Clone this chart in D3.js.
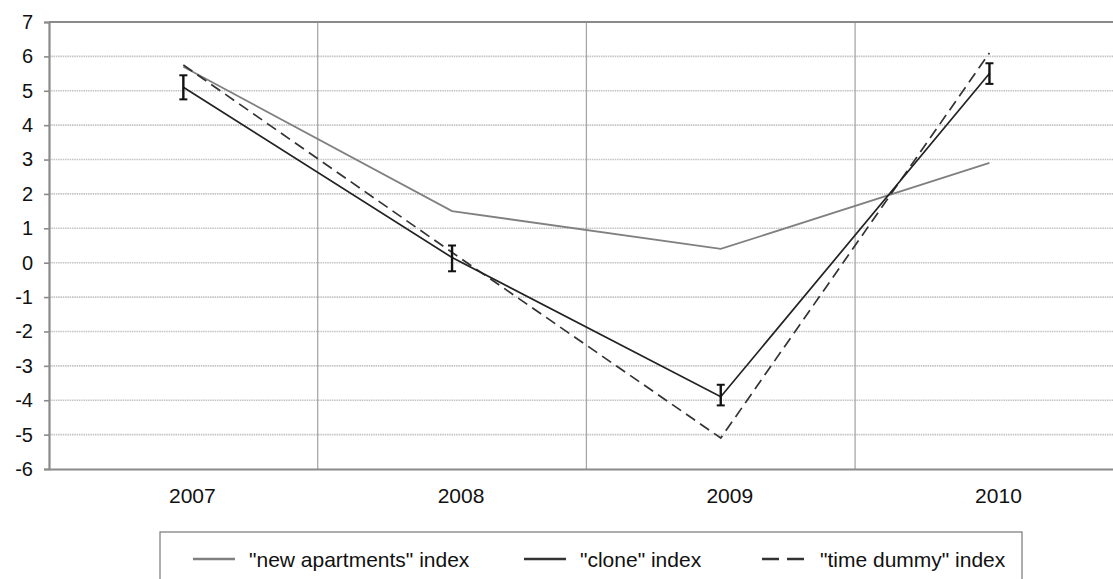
<!DOCTYPE html>
<html>
<head>
<meta charset="utf-8">
<script src="https://cdn.jsdelivr.net/npm/d3@7"></script>
<style>
  html, body { margin: 0; padding: 0; background: #fff; }
  svg { display: block; font-family: "Liberation Sans", Arial, sans-serif; }
</style>
</head>
<body>
<svg id="chart" width="1113" height="579"></svg>
<script>
// Years on the category axis
const years = ["2007", "2008", "2009", "2010"];
// Price index changes, per cent
const newApartments = [5.7, 1.5, 0.4, 2.9];
const cloneIndex = [5.1, 0.15, -3.9, 5.5];
const cloneLow = [4.75, -0.25, -4.15, 5.2];
const cloneHigh = [5.45, 0.5, -3.55, 5.8];
const timeDummy = [5.75, 0.3, -5.1, 6.1];
const yTicks = [7, 6, 5, 4, 3, 2, 1, 0, -1, -2, -3, -4, -5, -6];
const legendLabels = ['"new apartments" index', '"clone" index', '"time dummy" index'];

const svg = d3.select("#chart");
const plotLeft = 49, plotTop = 22, plotBottom = 469, band = 268.7;

const x = d3.scaleBand().domain(years).range([plotLeft, plotLeft + band * years.length]);
const y = d3.scaleLinear().domain([-6, 7]).range([plotBottom, plotTop]);
const cx = d => x(d) + x.bandwidth() / 2;

// horizontal grid
svg.append("g").selectAll("line")
  .data(yTicks.filter(t => t !== 7 && t !== -6))
  .join("line")
  .attr("x1", plotLeft).attr("x2", 1113)
  .attr("y1", d => y(d)).attr("y2", d => y(d))
  .attr("stroke", "#c4c4c4").attr("stroke-width", 1.6)
  .attr("stroke-dasharray", "1.5,0.8");

// category separators
svg.append("g").selectAll("line")
  .data(years.slice(1))
  .join("line")
  .attr("x1", d => x(d)).attr("x2", d => x(d))
  .attr("y1", plotTop).attr("y2", plotBottom)
  .attr("stroke", "#a8a8a8").attr("stroke-width", 1.3);

// top border
svg.append("line")
  .attr("x1", plotLeft).attr("x2", 1113)
  .attr("y1", y(7)).attr("y2", y(7))
  .attr("stroke", "#8a8a8a").attr("stroke-width", 2);

// y axis
const yAxis = d3.axisLeft(y).tickValues(yTicks).tickSize(5).tickFormat(d => String(d));
const gy = svg.append("g").attr("transform", `translate(${plotLeft},0)`).call(yAxis);
gy.select(".domain").attr("stroke", "#8a8a8a").attr("stroke-width", 2.2);
gy.selectAll(".tick line").attr("stroke", "#8a8a8a").attr("stroke-width", 1.6);
gy.selectAll(".tick text").attr("font-size", 20).attr("fill", "#111")
  .attr("font-family", "Liberation Sans, Arial, sans-serif").attr("x", -16);

// x axis
const xAxis = d3.axisBottom(x).tickSize(0).tickPadding(19);
const gx = svg.append("g").attr("transform", `translate(0,${plotBottom})`).call(xAxis);
gx.select(".domain").attr("stroke", "#8a8a8a").attr("stroke-width", 2.2);
gx.selectAll(".tick text").attr("font-size", 21).attr("fill", "#111")
  .attr("font-family", "Liberation Sans, Arial, sans-serif").attr("dx", 9);

const line = d3.line().x((d, i) => cx(years[i])).y(d => y(d));

svg.append("path").datum(newApartments).attr("d", line)
  .attr("fill", "none").attr("stroke", "#808080").attr("stroke-width", 1.8);
svg.append("path").datum(timeDummy).attr("d", line)
  .attr("fill", "none").attr("stroke", "#333").attr("stroke-width", 1.7)
  .attr("stroke-dasharray", "11,6");
svg.append("path").datum(cloneIndex).attr("d", line)
  .attr("fill", "none").attr("stroke", "#222").attr("stroke-width", 1.7);

// error bars on the clone index
const eb = svg.append("g").selectAll("g").data(years).join("g");
eb.append("line")
  .attr("x1", d => cx(d)).attr("x2", d => cx(d))
  .attr("y1", (d, i) => y(cloneHigh[i])).attr("y2", (d, i) => y(cloneLow[i]))
  .attr("stroke", "#111").attr("stroke-width", 2.4);
[cloneHigh, cloneLow].forEach(arr => {
  eb.append("line")
    .attr("x1", d => cx(d) - 4).attr("x2", d => cx(d) + 4)
    .attr("y1", (d, i) => y(arr[i])).attr("y2", (d, i) => y(arr[i]))
    .attr("stroke", "#111").attr("stroke-width", 2);
});

// legend
const lg = svg.append("g");
lg.append("rect").attr("x", 160).attr("y", 532).attr("width", 862).attr("height", 70)
  .attr("fill", "#fff").attr("stroke", "#777").attr("stroke-width", 1.2);
const legendX = [193, 524, 762];
const textX = [249, 580, 820];
const styles = [
  { stroke: "#808080", dash: null },
  { stroke: "#333", dash: null },
  { stroke: "#333", dash: "17,8" }
];
const items = lg.selectAll("g.item").data(legendLabels).join("g").attr("class", "item");
items.append("line")
  .attr("x1", (d, i) => legendX[i]).attr("x2", (d, i) => legendX[i] + 42)
  .attr("y1", 559).attr("y2", 559)
  .attr("stroke", (d, i) => styles[i].stroke).attr("stroke-width", 2.4)
  .attr("stroke-dasharray", (d, i) => styles[i].dash);
items.append("text")
  .attr("x", (d, i) => textX[i]).attr("y", 567)
  .attr("font-size", 21).attr("fill", "#111")
  .text(d => d);
</script>
</body>
</html>
